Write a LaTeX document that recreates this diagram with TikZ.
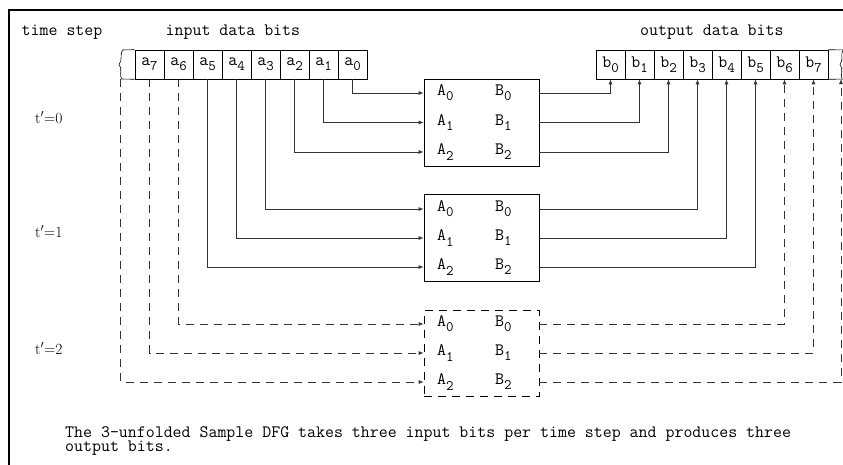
\documentclass[tikz,border=0pt]{standalone}
\usepackage{fontspec}
\usetikzlibrary{arrows.meta}
\newcommand{\bitsub}[1]{\raisebox{-0.3em}{\fontsize{14.5}{14.5}\selectfont #1}}

\begin{document}
\begin{tikzpicture}[x=1pt, y=-1pt,
    font=\fontsize{17.4}{19}\selectfont\ttfamily,
    note/.style={anchor=base west, inner sep=0pt},
    cell/.style={draw, minimum width=29pt, minimum height=29pt, inner sep=0pt, line width=0.6pt},
    unit/.style={draw, minimum width=115pt, minimum height=86.5pt, inner sep=0pt, line width=0.7pt},
    port/.style={anchor=west, inner sep=0pt},
    link/.style={draw=black!80, line width=0.8pt, -{Latex[length=5pt,width=4pt]}},
    later/.style={dash pattern=on 8pt off 6pt}]

    \useasboundingbox (0,0) rectangle (843,464);
    \clip (0,0) rectangle (843,464);

    % Frame
    \draw[line width=2.2pt] (9,470) -- (9,10) -- (850,10);

    % Headings
    \node[note] (steplabel) at (21.5,35) {time step};
    \node[note] (inlabel) at (165.5,35) {input data bits};
    \node[note] (outlabel) at (640,35) {output data bits};
    \node[note, font=\rmfamily\fontsize{15.5}{17}\selectfont] (t0) at (35,123) {t$'$=0};
    \node[note, font=\rmfamily\fontsize{15.5}{17}\selectfont] (t1) at (35,237) {t$'$=1};
    \node[note, font=\rmfamily\fontsize{15.5}{17}\selectfont] (t2) at (35,354) {t$'$=2};

    % Input register
    \node[cell] (a7) at (149.5,64.5) {a\bitsub{7}};
    \node[cell] (a6) at (178.5,64.5) {a\bitsub{6}};
    \node[cell] (a5) at (207.5,64.5) {a\bitsub{5}};
    \node[cell] (a4) at (236.5,64.5) {a\bitsub{4}};
    \node[cell] (a3) at (265.5,64.5) {a\bitsub{3}};
    \node[cell] (a2) at (294.5,64.5) {a\bitsub{2}};
    \node[cell] (a1) at (323.5,64.5) {a\bitsub{1}};
    \node[cell] (a0) at (352.5,64.5) {a\bitsub{0}};
    \draw[line width=0.6pt] (a7.north west) -- (122.5,50)
        .. controls (119.5,54) and (123,60) .. (119,64.5)
        .. controls (123,69) and (119,75) .. (121.5,79) -- (a7.south west);
    \coordinate (a8) at (120.5,79);

    % Output register
    \node[cell] (b0) at (610.5,64.5) {b\bitsub{0}};
    \node[cell] (b1) at (639.5,64.5) {b\bitsub{1}};
    \node[cell] (b2) at (668.5,64.5) {b\bitsub{2}};
    \node[cell] (b3) at (697.5,64.5) {b\bitsub{3}};
    \node[cell] (b4) at (726.5,64.5) {b\bitsub{4}};
    \node[cell] (b5) at (755.5,64.5) {b\bitsub{5}};
    \node[cell] (b6) at (784.5,64.5) {b\bitsub{6}};
    \node[cell] (b7) at (813.5,64.5) {b\bitsub{7}};
    \draw[line width=0.6pt] (b7.north east) -- (850,50);
    \draw[line width=0.6pt] (b7.south east) -- (850,79);
    \draw[line width=0.6pt] (843,50)
        .. controls (840,54) and (844,60) .. (840,64.5)
        .. controls (844,69) and (840,75) .. (842,79);
    \coordinate (b8) at (841,79);

    % Unfolded copies
    \node[unit] (u0) at (481.5,122.75) {};
    \node[unit] (u1) at (481.5,238) {};
    \node[unit, later] (u2) at (481.5,353.35) {};

    \node[port] (u0A0) at (437,93) {A\bitsub{0}};    \node[port] (u0B0) at (495,93) {B\bitsub{0}};
    \node[port] (u0A1) at (437,122.5) {A\bitsub{1}}; \node[port] (u0B1) at (495,122.5) {B\bitsub{1}};
    \node[port] (u0A2) at (437,152) {A\bitsub{2}};   \node[port] (u0B2) at (495,152) {B\bitsub{2}};
    \node[port] (u1A0) at (437,209) {A\bitsub{0}};   \node[port] (u1B0) at (495,209) {B\bitsub{0}};
    \node[port] (u1A1) at (437,238) {A\bitsub{1}};   \node[port] (u1B1) at (495,238) {B\bitsub{1}};
    \node[port] (u1A2) at (437,267) {A\bitsub{2}};   \node[port] (u1B2) at (495,267) {B\bitsub{2}};
    \node[port] (u2A0) at (437,324) {A\bitsub{0}};   \node[port] (u2B0) at (495,324) {B\bitsub{0}};
    \node[port] (u2A1) at (437,353) {A\bitsub{1}};   \node[port] (u2B1) at (495,353) {B\bitsub{1}};
    \node[port] (u2A2) at (437,382) {A\bitsub{2}};   \node[port] (u2B2) at (495,382) {B\bitsub{2}};

    % Input bits into the copies
    \draw[link] (a0) |- (u0.west |- u0A0);
    \draw[link] (a1) |- (u0.west |- u0A1);
    \draw[link] (a2) |- (u0.west |- u0A2);
    \draw[link] (a3) |- (u1.west |- u1A0);
    \draw[link] (a4) |- (u1.west |- u1A1);
    \draw[link] (a5) |- (u1.west |- u1A2);
    \draw[link, later] (a6) |- (u2.west |- u2A0);
    \draw[link, later] (a7) |- (u2.west |- u2A1);
    \draw[link, later] (a8) |- (u2.west |- u2A2);

    % Output bits from the copies
    \draw[link] (u0.east |- u0B0) -| (b0);
    \draw[link] (u0.east |- u0B1) -| (b1);
    \draw[link] (u0.east |- u0B2) -| (b2);
    \draw[link] (u1.east |- u1B0) -| (b3);
    \draw[link] (u1.east |- u1B1) -| (b4);
    \draw[link] (u1.east |- u1B2) -| (b5);
    \draw[link, later] (u2.east |- u2B0) -| (b6);
    \draw[link, later] (u2.east |- u2B1) -| (b7);
    \draw[link, later] (u2.east |- u2B2) -| (b8);

    % Caption
    \node[note] (cap1) at (65,437.5) {The 3-unfolded Sample DFG takes three input bits per time step and produces three};
    \node[note] (cap2) at (65,451) {output bits.};
\end{tikzpicture}
\end{document}
